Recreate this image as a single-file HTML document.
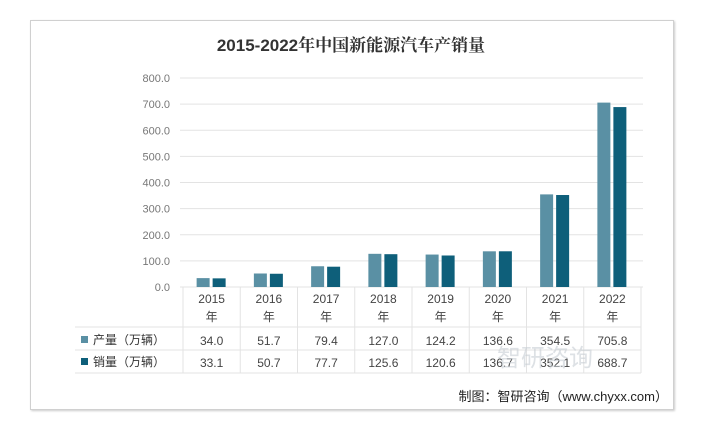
<!DOCTYPE html>
<html><head><meta charset="utf-8"><style>
body{margin:0;background:#fff;width:702px;height:434px;overflow:hidden;font-family:"Liberation Sans","Noto Sans CJK SC",sans-serif}
#box{position:absolute;left:30px;top:20px;width:642px;height:388px;border:1px solid #d0d0d0;box-shadow:1px 1px 2px #ccc}
</style></head><body>
<div id="box"></div>
<svg id="c" width="702" height="434" style="position:absolute;left:0;top:0"></svg>
<script>
const years=["2015","2016","2017","2018","2019","2020","2021","2022"];
const production=[34.0,51.7,79.4,127.0,124.2,136.6,354.5,705.8];
const sales=[33.1,50.7,77.7,125.6,120.6,136.7,352.1,688.7];
const ticks=[0,100,200,300,400,500,600,700,800];
const svg=document.getElementById('c');
const NS='http://www.w3.org/2000/svg';
function mk(t,a,txt){const e=document.createElementNS(NS,t);for(const k in a)e.setAttribute(k,a[k]);if(txt!==undefined)e.textContent=txt;svg.appendChild(e);return e;}
const x0=183,colW=57.25,y0=287,yTop=78;
const y=v=>y0-(v/800)*(y0-yTop);
const cx=i=>x0+colW*(i+0.5);
let t=mk('text',{x:351,y:51,'text-anchor':'middle','font-size':17,'font-weight':'bold',fill:'#333','font-family':'Liberation Sans, Noto Serif CJK SC, serif'},'2015-2022年中国新能源汽车产销量');

ticks.forEach(v=>{
 let l=mk('line',{x1:180,x2:643,y1:y(v),y2:y(v),stroke:'#e3e3e3'});
 
 let tx=mk('text',{x:170,y:y(v)+4,'text-anchor':'end','font-size':11,fill:'#777'},v.toFixed(1));
 
});
years.forEach((yr,i)=>{
 let b=mk('rect',{x:cx(i)-15,y:y(production[i]),width:13,height:y0-y(production[i]),fill:'#5a90a4'});
 
 let s=mk('rect',{x:cx(i)+1,y:y(sales[i]),width:13,height:y0-y(sales[i]),fill:'#0e5f7a'});
 
 let a=mk('text',{x:cx(i),y:303,'text-anchor':'middle','font-size':12,fill:'#444'},yr);
 
 let a2=mk('text',{x:cx(i),y:321,'text-anchor':'middle','font-size':12,fill:'#444'},'年');
 
 let p=mk('text',{x:cx(i),y:345,'text-anchor':'middle','font-size':12,fill:'#444'},production[i].toFixed(1));
 
 let q=mk('text',{x:cx(i),y:367,'text-anchor':'middle','font-size':12,fill:'#444'},sales[i].toFixed(1));
 
});
// table lines
const xe=x0+colW*8;
[[x0,287,x0,373],[xe,287,xe,373],[75,327,xe,327],[75,350,xe,350],[75,373,xe,373]].forEach(c=>{
 let l=mk('line',{x1:c[0],y1:c[1],x2:c[2],y2:c[3],stroke:'#e3e3e3'});
 
});
for(let i=1;i<8;i++){let l=mk('line',{x1:x0+colW*i,y1:287,x2:x0+colW*i,y2:373,stroke:'#e3e3e3'});
 }
let k1=mk('rect',{x:81,y:336,width:7,height:7,fill:'#5a90a4'});
let k2=mk('rect',{x:81,y:358,width:7,height:7,fill:'#0e5f7a'});
let l1=mk('text',{x:93,y:344,'font-size':12,fill:'#333'},'产量（万辆）');
let l2=mk('text',{x:93,y:366,'font-size':12,fill:'#333'},'销量（万辆）');
let w=mk('text',{x:545,y:366,'text-anchor':'middle','font-size':24,fill:'#c8ced4','opacity':0.6},'智研咨询');
let f=mk('text',{x:668,y:401,'text-anchor':'end','font-size':13,fill:'#222'},'制图：智研咨询（www.chyxx.com）');
</script>
</body></html>
